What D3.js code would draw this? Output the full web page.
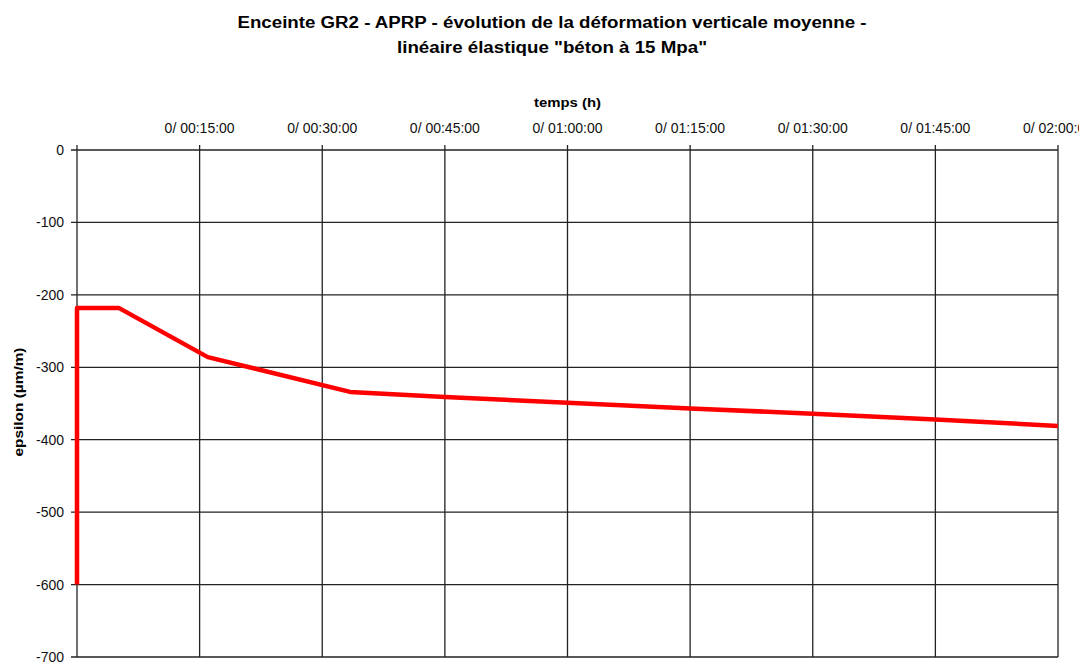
<!DOCTYPE html>
<html>
<head>
<meta charset="utf-8">
<script src="https://cdn.jsdelivr.net/npm/d3@7"></script>
<style>
body { margin:0; background:#fff; }
svg { font-family: "Liberation Sans", Arial, sans-serif; }
</style>
</head>
<body>
<svg id="chart"></svg>
<script>
// time in minutes, epsilon in µm/m
var times = [0, 0, 5.1, 16, 33.4, 45, 60, 75, 90, 105, 120];
var epsilon = [-600, -218, -218, -286, -334, -341, -349, -357, -364, -372, -381];
var xTicks = [15, 30, 45, 60, 75, 90, 105, 120];
var yTicks = [0, -100, -200, -300, -400, -500, -600, -700];
var titleLines = ["Enceinte GR2 - APRP - évolution de la déformation verticale moyenne -",
                  "linéaire élastique \"béton à 15 Mpa\""];
var titleWidths = [629, 310];

var screen = {width:1079, height:663};
var margins = {top:150, bottom:6, left:77, right:21};
var graph = {
    width:screen.width-margins.left-margins.right,
    height:screen.height-margins.top-margins.bottom
};

var svg = d3.select("#chart")
    .attr("width", screen.width)
    .attr("height", screen.height);

var x = d3.scaleLinear()
    .domain([0,120])
    .range([margins.left, margins.left+graph.width]);
var y = d3.scaleLinear()
    .domain([-700,0])
    .range([margins.top+graph.height, margins.top]);

var fmt = function(m)
{
    var h = Math.floor(m/60), mm = m%60;
    return "0/ " + d3.format("02")(h) + ":" + d3.format("02")(mm) + ":00";
};

// gridlines
var grid = svg.append("g").attr("stroke", "#222").attr("stroke-width", 1.3);
grid.selectAll(".v")
    .data([0].concat(xTicks))
    .enter().append("line")
    .attr("x1", function(d){ return x(d); })
    .attr("x2", function(d){ return x(d); })
    .attr("y1", y(0)-5)
    .attr("y2", y(-700));
grid.selectAll(".h")
    .data(yTicks)
    .enter().append("line")
    .attr("x1", x(0)-6)
    .attr("x2", x(120))
    .attr("y1", function(d){ return y(d); })
    .attr("y2", function(d){ return y(d); });

// top axis labels
svg.append("g")
    .selectAll("text")
    .data(xTicks)
    .enter().append("text")
    .attr("x", function(d){ return x(d); })
    .attr("y", 133)
    .attr("text-anchor", "middle")
    .attr("font-size", 14)
    .attr("fill", "#111")
    .text(fmt);

// left axis labels
svg.append("g")
    .selectAll("text")
    .data(yTicks)
    .enter().append("text")
    .attr("x", 64)
    .attr("y", function(d){ return y(d)+5; })
    .attr("text-anchor", "end")
    .attr("font-size", 14)
    .attr("fill", "#111")
    .text(function(d){ return d; });

// series
var line = d3.line()
    .x(function(d){ return x(d[0]); })
    .y(function(d){ return y(d[1]); });
svg.append("path")
    .datum(d3.zip(times, epsilon))
    .attr("d", line)
    .attr("fill", "none")
    .attr("stroke", "#ff0000")
    .attr("stroke-width", 4.5)
    .attr("stroke-linejoin", "round");

// titles
svg.append("g")
    .selectAll("text")
    .data(titleLines)
    .enter().append("text")
    .attr("x", 552)
    .attr("y", function(d,i){ return 28 + i*25; })
    .attr("text-anchor", "middle")
    .attr("font-size", 16)
    .attr("font-weight", "bold")
    .attr("textLength", function(d,i){ return titleWidths[i]; })
    .attr("lengthAdjust", "spacingAndGlyphs")
    .text(function(d){ return d; });

svg.append("text")
    .attr("x", x(60))
    .attr("y", 107)
    .attr("text-anchor", "middle")
    .attr("font-size", 12.5)
    .attr("font-weight", "bold")
    .attr("textLength", 67)
    .attr("lengthAdjust", "spacingAndGlyphs")
    .text("temps (h)");

svg.append("text")
    .attr("transform", "translate(23,402) rotate(-90)")
    .attr("text-anchor", "middle")
    .attr("font-size", 13)
    .attr("font-weight", "bold")
    .attr("textLength", 109)
    .attr("lengthAdjust", "spacingAndGlyphs")
    .text("epsilon (µm/m)");
</script>
</body>
</html>
